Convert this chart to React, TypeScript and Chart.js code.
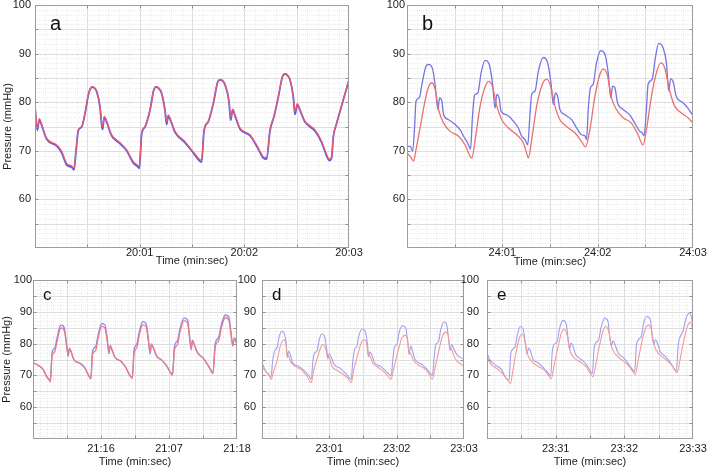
import React, { useEffect, useRef } from 'react';
import { Chart, registerables } from 'chart.js';

Chart.register(...registerables);

const FONT = "'Liberation Sans', Arial, Helvetica, sans-serif";
const TEXT = '#1c1c1c';

type P = [number, number][];

// ---------- tick labels ----------
const yLabelValues = [60, 70, 80, 90, 100];
const aTimeLabels = ['', '20:01', '20:02', '20:03'];
const bTimeLabels = ['', '24:01', '24:02', '24:03'];
const cTimeLabels = ['', '21:16', '21:07', '21:18'];
const dTimeLabels = ['', '23:01', '23:02', '23:03'];
const eTimeLabels = ['', '23:31', '23:32', '23:33'];
const xAxisTitle = 'Time (min:sec)';
const yAxisTitle = 'Pressure (mmHg)';

// ---------- panel a (seconds, mmHg) ----------
const aRed: P = [[0,79.2],[0.022,74.7],[0.041,76.6],[0.064,75.4],[0.111,72.6],[0.207,71.2],[0.255,69.9],[0.303,67.4],[0.350,66.9],[0.373,66.4],[0.392,70.2],[0.414,74.3],[0.446,75.0],[0.478,77.8],[0.510,81.6],[0.530,82.9],[0.548,83.2],[0.568,83.0],[0.589,82.3],[0.621,79.2],[0.637,75.7],[0.646,75.0],[0.662,77.1],[0.685,76.1],[0.732,73.3],[0.812,71.7],[0.876,70.2],[0.939,67.8],[0.978,67.1],[0.997,66.8],[1.019,73.7],[1.051,75.0],[1.099,78.5],[1.135,82.6],[1.156,83.2],[1.180,83.0],[1.210,81.9],[1.242,78.5],[1.258,75.9],[1.274,77.4],[1.296,76.4],[1.338,74.0],[1.433,71.9],[1.497,70.2],[1.561,68.5],[1.592,68.0],[1.615,74.3],[1.656,76.1],[1.704,79.9],[1.745,84.2],[1.768,84.7],[1.792,84.5],[1.815,83.7],[1.854,80.2],[1.869,76.8],[1.889,78.6],[1.911,77.4],[1.959,74.7],[2.054,73.3],[2.118,71.2],[2.182,68.8],[2.213,68.6],[2.245,74.3],[2.283,77.1],[2.325,81.2],[2.365,85.4],[2.389,85.9],[2.413,85.6],[2.436,84.7],[2.468,81.2],[2.484,78.1],[2.506,79.7],[2.532,78.5],[2.580,76.1],[2.675,74.3],[2.739,71.9],[2.787,69.2],[2.812,68.3],[2.834,68.8],[2.850,73.0],[2.882,75.7],[2.946,80.6],[3.0,84.7]];
const aBlue: P = [[0,79.0],[0.022,74.2],[0.041,76.4],[0.064,75.2],[0.111,72.4],[0.207,71.0],[0.255,69.6],[0.303,67.1],[0.350,66.6],[0.373,66.1],[0.392,70.0],[0.414,74.2],[0.446,74.9],[0.478,77.7],[0.510,81.5],[0.530,82.8],[0.548,83.1],[0.568,82.9],[0.589,82.2],[0.621,79.0],[0.637,75.3],[0.646,74.4],[0.662,76.9],[0.685,75.9],[0.732,73.1],[0.812,71.5],[0.876,70.0],[0.939,67.5],[0.978,66.8],[0.997,66.4],[1.019,73.5],[1.051,74.9],[1.099,78.4],[1.135,82.5],[1.156,83.1],[1.180,82.9],[1.210,81.8],[1.242,78.3],[1.258,75.4],[1.274,77.2],[1.296,76.2],[1.338,73.8],[1.433,71.7],[1.497,70.0],[1.561,68.2],[1.592,67.7],[1.615,74.1],[1.656,76.0],[1.704,79.8],[1.745,84.1],[1.768,84.6],[1.792,84.4],[1.815,83.6],[1.854,80.0],[1.869,76.3],[1.889,78.4],[1.911,77.2],[1.959,74.5],[2.054,73.1],[2.118,71.0],[2.182,68.5],[2.213,68.3],[2.245,74.1],[2.283,77.0],[2.325,81.1],[2.365,85.3],[2.389,85.8],[2.413,85.5],[2.436,84.6],[2.468,81.0],[2.484,77.5],[2.506,79.5],[2.532,78.3],[2.580,75.9],[2.675,74.1],[2.739,71.7],[2.787,68.9],[2.812,68.0],[2.834,68.5],[2.850,72.8],[2.882,75.6],[2.946,80.5],[3.0,84.6]];

// ---------- panel b ----------
const bBlue: P = [[0,70.9],[0.035,70.9],[0.059,69.9],[0.080,75.0],[0.094,80.2],[0.129,80.9],[0.157,83.7],[0.199,87.4],[0.227,87.8],[0.269,86.8],[0.296,83.3],[0.324,78.5],[0.342,80.9],[0.366,80.2],[0.384,77.4],[0.436,76.4],[0.506,75.4],[0.558,74.3],[0.593,73.0],[0.628,71.9],[0.652,70.9],[0.666,70.3],[0.687,77.1],[0.708,81.4],[0.743,81.9],[0.778,86.1],[0.820,88.6],[0.862,87.8],[0.896,84.0],[0.924,78.8],[0.942,81.6],[0.966,80.9],[0.987,78.1],[1.046,77.4],[1.116,76.1],[1.168,74.7],[1.203,73.0],[1.238,72.3],[1.266,71.2],[1.291,77.8],[1.308,81.7],[1.343,82.3],[1.378,86.4],[1.430,89.2],[1.475,88.1],[1.510,84.0],[1.535,79.5],[1.556,81.9],[1.580,81.2],[1.604,78.5],[1.657,77.4],[1.727,76.4],[1.779,74.7],[1.831,73.3],[1.866,73.1],[1.883,72.3],[1.901,78.5],[1.925,83.0],[1.953,83.7],[1.988,88.1],[2.033,90.6],[2.075,89.9],[2.110,86.1],[2.138,80.9],[2.156,83.3],[2.180,83.0],[2.208,79.9],[2.267,78.5],[2.337,77.4],[2.389,75.7],[2.442,74.0],[2.466,73.7],[2.487,73.1],[2.511,78.5],[2.529,83.7],[2.571,84.7],[2.606,89.2],[2.640,92.1],[2.686,91.2],[2.721,88.1],[2.745,82.3],[2.766,84.8],[2.790,84.3],[2.825,81.2],[2.895,79.9],[2.947,78.8],[3.0,77.2]];
const bRed: P = [[0,69.5],[0.035,68.8],[0.070,67.9],[0.094,70.2],[0.140,75.0],[0.192,80.6],[0.227,83.2],[0.262,84.0],[0.296,82.6],[0.331,78.5],[0.384,75.7],[0.453,74.0],[0.541,73.0],[0.610,71.2],[0.663,68.8],[0.680,68.5],[0.715,72.3],[0.767,79.2],[0.820,83.2],[0.855,84.3],[0.896,83.3],[0.942,79.2],[0.994,76.4],[1.064,74.7],[1.151,73.3],[1.221,71.6],[1.266,68.8],[1.273,68.5],[1.308,72.3],[1.360,79.2],[1.420,83.7],[1.465,84.7],[1.500,83.7],[1.552,79.2],[1.604,76.4],[1.674,75.0],[1.761,73.7],[1.831,71.9],[1.873,70.8],[1.918,74.3],[1.971,81.2],[2.023,85.7],[2.058,86.8],[2.100,85.7],[2.145,80.9],[2.197,78.5],[2.267,76.8],[2.354,75.7],[2.424,73.3],[2.476,71.2],[2.511,74.3],[2.564,81.2],[2.616,86.1],[2.661,88.1],[2.703,87.1],[2.756,82.3],[2.808,79.2],[2.878,77.8],[2.947,76.8],[3.0,75.7]];

// ---------- panel c ----------
const cRed: P = [[0,74.0],[0.074,73.2],[0.148,71.9],[0.197,69.8],[0.236,68.8],[0.256,68.2],[0.280,76.0],[0.320,77.4],[0.354,80.7],[0.394,84.4],[0.423,84.9],[0.462,83.9],[0.492,79.7],[0.516,76.6],[0.536,78.4],[0.561,77.4],[0.600,75.0],[0.689,73.8],[0.762,72.4],[0.812,70.3],[0.851,69.1],[0.876,76.6],[0.920,77.8],[0.959,81.8],[1.008,85.4],[1.058,84.9],[1.092,80.7],[1.117,77.4],[1.136,79.2],[1.161,78.1],[1.205,75.7],[1.289,74.5],[1.367,72.4],[1.417,70.3],[1.461,69.3],[1.486,77.1],[1.525,78.6],[1.564,82.8],[1.613,85.9],[1.663,85.4],[1.697,80.7],[1.722,77.4],[1.741,79.7],[1.771,78.6],[1.820,76.0],[1.894,74.8],[1.968,72.9],[2.017,71.1],[2.051,70.3],[2.081,78.1],[2.125,79.7],[2.164,83.9],[2.223,87.2],[2.273,86.5],[2.302,81.8],[2.327,78.6],[2.346,80.9],[2.371,79.7],[2.420,77.1],[2.499,75.5],[2.568,73.4],[2.617,71.6],[2.646,70.8],[2.681,79.2],[2.730,80.9],[2.769,84.9],[2.828,88.2],[2.878,87.5],[2.912,82.8],[2.937,79.7],[2.961,81.6],[3.0,79.7]];
const cBlue: P = [[0,74.0],[0.074,73.2],[0.148,71.9],[0.197,69.7],[0.236,68.6],[0.256,68.0],[0.280,77.2],[0.320,78.6],[0.354,81.8],[0.394,85.3],[0.423,85.8],[0.462,84.8],[0.492,80.2],[0.516,76.0],[0.536,78.6],[0.561,77.4],[0.600,75.0],[0.689,73.8],[0.762,72.4],[0.812,70.2],[0.851,68.9],[0.876,77.6],[0.920,79.0],[0.959,82.8],[1.008,86.3],[1.058,85.9],[1.092,81.5],[1.117,76.8],[1.136,79.4],[1.161,78.1],[1.205,75.7],[1.289,74.5],[1.367,72.4],[1.417,70.2],[1.461,69.1],[1.486,78.1],[1.525,79.8],[1.564,83.8],[1.613,86.9],[1.663,86.3],[1.697,81.4],[1.722,76.7],[1.741,79.9],[1.771,78.6],[1.820,76.0],[1.894,74.8],[1.968,72.9],[2.017,71.0],[2.051,70.1],[2.081,79.2],[2.125,80.9],[2.164,84.9],[2.223,88.1],[2.273,87.4],[2.302,82.6],[2.327,78.0],[2.346,81.1],[2.371,79.7],[2.420,77.1],[2.499,75.5],[2.568,73.4],[2.617,71.5],[2.646,70.6],[2.681,80.2],[2.730,82.0],[2.769,85.9],[2.828,89.0],[2.878,88.4],[2.912,83.6],[2.937,79.2],[2.961,81.8],[3.0,79.7]];

// ---------- panel d ----------
const dBlue: P = [[0,74.0],[0.049,71.6],[0.099,70.3],[0.133,69.5],[0.158,74.5],[0.188,77.8],[0.222,78.6],[0.257,82.3],[0.297,83.9],[0.336,82.8],[0.361,79.7],[0.376,76.0],[0.395,77.6],[0.420,76.6],[0.455,74.0],[0.544,72.9],[0.618,71.6],[0.692,70.0],[0.732,68.8],[0.756,74.5],[0.781,77.1],[0.816,77.6],[0.850,81.2],[0.890,83.0],[0.929,82.3],[0.959,78.6],[0.979,75.5],[0.999,76.8],[1.028,75.7],[1.073,73.4],[1.162,72.2],[1.236,70.8],[1.295,69.3],[1.325,68.8],[1.349,74.5],[1.374,78.1],[1.409,79.2],[1.443,82.8],[1.493,84.6],[1.532,83.9],[1.567,79.7],[1.582,76.0],[1.602,77.4],[1.631,76.4],[1.671,74.0],[1.755,72.9],[1.829,71.6],[1.888,70.3],[1.918,69.8],[1.943,75.0],[1.967,78.9],[2.002,79.7],[2.042,83.9],[2.091,85.6],[2.135,84.9],[2.165,80.2],[2.185,76.8],[2.209,79.2],[2.234,77.8],[2.274,75.0],[2.363,73.6],[2.432,72.4],[2.496,70.8],[2.531,70.0],[2.556,75.5],[2.580,79.7],[2.620,80.5],[2.654,84.4],[2.704,86.8],[2.743,85.9],[2.773,81.2],[2.793,78.1],[2.818,79.7],[2.847,78.4],[2.892,76.6],[3.0,75.0]];
const dRed: P = [[0,72.6],[0.074,70.8],[0.124,69.3],[0.138,68.8],[0.173,71.4],[0.222,74.5],[0.272,79.2],[0.321,81.2],[0.356,79.7],[0.376,75.6],[0.392,76.4],[0.420,74.5],[0.494,72.9],[0.593,71.6],[0.667,69.8],[0.732,67.7],[0.766,71.4],[0.830,76.0],[0.880,79.2],[0.914,79.7],[0.949,78.1],[0.979,75.2],[0.995,75.8],[1.038,72.9],[1.112,71.6],[1.211,70.3],[1.285,68.8],[1.325,67.7],[1.359,71.4],[1.424,76.6],[1.473,80.2],[1.522,81.2],[1.557,79.7],[1.582,75.8],[1.600,76.2],[1.641,74.0],[1.730,72.4],[1.829,70.8],[1.888,69.3],[1.918,68.8],[1.953,71.9],[2.027,78.1],[2.076,81.8],[2.126,82.6],[2.165,80.9],[2.185,76.6],[2.205,76.9],[2.249,74.7],[2.348,72.9],[2.447,71.6],[2.496,69.8],[2.531,68.8],[2.570,72.4],[2.630,78.1],[2.679,82.3],[2.729,83.6],[2.768,82.3],[2.793,77.8],[2.810,78.3],[2.867,75.3],[3.0,72.9]];

// ---------- panel e ----------
const eBlue: P = [[0,77.1],[0.039,75.0],[0.112,73.4],[0.209,71.9],[0.272,69.3],[0.320,68.4],[0.345,76.6],[0.369,78.1],[0.413,79.2],[0.442,82.8],[0.485,85.4],[0.524,84.7],[0.558,80.2],[0.583,76.8],[0.607,78.6],[0.636,77.6],[0.670,75.0],[0.743,74.0],[0.825,72.4],[0.888,70.8],[0.927,69.8],[0.951,77.6],[0.976,79.7],[1.019,80.5],[1.058,84.9],[1.107,87.3],[1.155,86.1],[1.180,81.8],[1.204,78.1],[1.223,80.2],[1.252,79.2],[1.291,76.6],[1.374,75.0],[1.447,73.4],[1.505,71.4],[1.534,70.5],[1.558,78.1],[1.583,80.2],[1.626,81.2],[1.665,85.4],[1.714,88.0],[1.762,87.0],[1.786,82.3],[1.811,79.2],[1.835,80.9],[1.864,79.7],[1.908,77.1],[1.990,75.5],[2.068,73.4],[2.117,71.9],[2.150,71.1],[2.175,79.2],[2.204,81.2],[2.248,82.3],[2.282,86.5],[2.330,88.5],[2.379,87.5],[2.403,82.8],[2.427,79.7],[2.451,81.2],[2.481,80.2],[2.524,77.4],[2.612,75.7],[2.684,73.6],[2.723,72.2],[2.757,71.4],[2.786,79.7],[2.816,82.3],[2.854,83.9],[2.893,87.5],[2.942,89.6],[2.976,88.5],[3.0,85.4]];
const eRed: P = [[0,75.7],[0.063,73.4],[0.160,71.9],[0.257,69.8],[0.320,68.0],[0.340,67.4],[0.379,71.9],[0.427,77.6],[0.476,82.0],[0.510,83.0],[0.549,81.2],[0.583,77.1],[0.646,74.5],[0.743,72.9],[0.840,71.6],[0.903,69.8],[0.937,69.0],[0.971,72.4],[1.034,78.9],[1.083,83.3],[1.121,84.6],[1.165,82.8],[1.204,78.1],[1.262,75.7],[1.350,74.3],[1.447,72.6],[1.505,70.5],[1.544,69.5],[1.583,73.4],[1.641,79.7],[1.689,83.9],[1.728,85.4],[1.772,83.9],[1.811,79.2],[1.874,76.6],[1.971,74.7],[2.068,72.9],[2.126,71.1],[2.160,70.3],[2.199,74.5],[2.262,81.2],[2.311,84.9],[2.350,85.9],[2.393,84.4],[2.432,79.7],[2.490,77.1],[2.587,75.3],[2.684,73.4],[2.738,71.6],[2.767,70.8],[2.816,75.5],[2.879,82.3],[2.927,85.9],[2.961,86.8],[3.0,83.9]];

// ---------- layout specs ----------
interface Spec {
  key: string; left: number; top: number; w: number; h: number;
  yW: number; xH: number; pad: { top: number; right: number; bottom: number; left: number };
  yTickPad: number; xTickPad: number; xTitlePad: number; yTitlePad: number; showYTitle: boolean;
  letter: string; letterSize: number; letterDx: number; letterDy: number;
  timeLabels: string[]; red: P; blue: P;
  redColor: string; blueColor: string; redWidth: number; blueWidth: number;
}

const specs: Spec[] = [
  { key: 'a', left: 0, top: 0, w: 380, h: 272, yW: 35, xH: 20, pad: { top: 5, right: 31, bottom: 4, left: 0 },
    yTickPad: 4, xTickPad: -2, xTitlePad: 0, yTitlePad: 1, showYTitle: true,
    letter: 'a', letterSize: 20, letterDx: 15, letterDy: 25, timeLabels: aTimeLabels, red: aRed, blue: aBlue,
    redColor: '#ec5a6c', blueColor: '#5a5ae2', redWidth: 1.2, blueWidth: 1.8 },
  { key: 'b', left: 355, top: 0, w: 356, h: 272, yW: 52, xH: 21, pad: { top: 5, right: 18, bottom: 3, left: 0 },
    yTickPad: 2, xTickPad: -2, xTitlePad: 0, yTitlePad: 0, showYTitle: false,
    letter: 'b', letterSize: 20, letterDx: 15, letterDy: 25, timeLabels: bTimeLabels, red: bRed, blue: bBlue,
    redColor: '#ea7070', blueColor: '#7474e2', redWidth: 1.3, blueWidth: 1.3 },
  { key: 'c', left: 0, top: 270, w: 262, h: 201, yW: 33, xH: 30, pad: { top: 10, right: 25, bottom: 2, left: 0 },
    yTickPad: 1, xTickPad: 3, xTitlePad: 0, yTitlePad: 0, showYTitle: true,
    letter: 'c', letterSize: 17, letterDx: 10, letterDy: 20, timeLabels: cTimeLabels, red: cRed, blue: cBlue,
    redColor: '#ec7a86', blueColor: '#8a8aec', redWidth: 1.3, blueWidth: 1.3 },
  { key: 'd', left: 228, top: 270, w: 262, h: 201, yW: 34, xH: 30, pad: { top: 10, right: 26, bottom: 2, left: 0 },
    yTickPad: 6, xTickPad: 3, xTitlePad: 0, yTitlePad: 0, showYTitle: false,
    letter: 'd', letterSize: 17, letterDx: 10, letterDy: 20, timeLabels: dTimeLabels, red: dRed, blue: dBlue,
    redColor: '#f09c9c', blueColor: '#a0a0f0', redWidth: 1.1, blueWidth: 1.1 },
  { key: 'e', left: 455, top: 270, w: 256, h: 201, yW: 32, xH: 30, pad: { top: 10, right: 18, bottom: 2, left: 0 },
    yTickPad: 8, xTickPad: 3, xTitlePad: 0, yTitlePad: 0, showYTitle: false,
    letter: 'e', letterSize: 17, letterDx: 10, letterDy: 20, timeLabels: eTimeLabels, red: eRed, blue: eBlue,
    redColor: '#f09c9c', blueColor: '#a0a0f0', redWidth: 1.1, blueWidth: 1.1 },
];

const X_MAJOR = 0.5, X_MINOR = 0.1, Y_MAJOR = 5, Y_MINOR = 1;

const gridPlugin = {
  id: 'matlabGrid',
  beforeDatasetsDraw(chart: any) {
    const { ctx, chartArea: ca, scales } = chart;
    const xs = scales.x, ys = scales.y;
    ctx.save();
    ctx.fillStyle = '#ffffff';
    ctx.fillRect(ca.left, ca.top, ca.right - ca.left, ca.bottom - ca.top);
    ctx.beginPath();
    ctx.rect(ca.left, ca.top, ca.right - ca.left, ca.bottom - ca.top);
    ctx.clip();
    ctx.lineWidth = 1;
    ctx.strokeStyle = '#ececec';
    ctx.setLineDash([1, 1]);
    ctx.beginPath();
    const nx = Math.round((xs.max - xs.min) / X_MINOR);
    for (let i = 0; i <= nx; i++) {
      const px = Math.round(xs.getPixelForValue(xs.min + i * X_MINOR)) + 0.5;
      ctx.moveTo(px, ca.top); ctx.lineTo(px, ca.bottom);
    }
    const ny = Math.round((ys.max - ys.min) / Y_MINOR);
    for (let i = 0; i <= ny; i++) {
      const py = Math.round(ys.getPixelForValue(ys.min + i * Y_MINOR)) + 0.5;
      ctx.moveTo(ca.left, py); ctx.lineTo(ca.right, py);
    }
    ctx.stroke();
    ctx.strokeStyle = '#dedede';
    ctx.setLineDash([]);
    ctx.beginPath();
    const mx = Math.round((xs.max - xs.min) / X_MAJOR);
    for (let i = 0; i <= mx; i++) {
      const px = Math.round(xs.getPixelForValue(xs.min + i * X_MAJOR)) + 0.5;
      ctx.moveTo(px, ca.top); ctx.lineTo(px, ca.bottom);
    }
    const my = Math.round((ys.max - ys.min) / Y_MAJOR);
    for (let i = 0; i <= my; i++) {
      const py = Math.round(ys.getPixelForValue(ys.min + i * Y_MAJOR)) + 0.5;
      ctx.moveTo(ca.left, py); ctx.lineTo(ca.right, py);
    }
    ctx.stroke();
    ctx.restore();
  },
  afterDatasetsDraw(chart: any) {
    const { ctx, chartArea: ca, scales } = chart;
    const xs = scales.x, ys = scales.y;
    const L = Math.round(ca.left) + 0.5, R = Math.round(ca.right) - 0.5;
    const T = Math.round(ca.top) + 0.5, B = Math.round(ca.bottom) - 0.5;
    ctx.save();
    ctx.lineWidth = 1;
    ctx.strokeStyle = '#8e8e8e';
    ctx.beginPath();
    const mx = Math.round((xs.max - xs.min) / X_MAJOR);
    for (let i = 1; i < mx; i++) {
      const px = Math.round(xs.getPixelForValue(xs.min + i * X_MAJOR)) + 0.5;
      ctx.moveTo(px, B); ctx.lineTo(px, B - 3);
      ctx.moveTo(px, T); ctx.lineTo(px, T + 3);
    }
    const my = Math.round((ys.max - ys.min) / Y_MAJOR);
    for (let i = 1; i < my; i++) {
      const py = Math.round(ys.getPixelForValue(ys.min + i * Y_MAJOR)) + 0.5;
      ctx.moveTo(L, py); ctx.lineTo(L + 3, py);
      ctx.moveTo(R, py); ctx.lineTo(R - 3, py);
    }
    ctx.stroke();
    ctx.strokeStyle = '#9c9c9c';
    ctx.strokeRect(L, T, R - L, B - T);
    ctx.restore();
  },
};

const letterPlugin = {
  id: 'panelLetter',
  afterDraw(chart: any, _args: any, opts: any) {
    const { ctx, chartArea: ca } = chart;
    ctx.save();
    ctx.fillStyle = '#111111';
    ctx.font = `${opts.size}px ${FONT}`;
    ctx.textAlign = 'left';
    ctx.textBaseline = 'alphabetic';
    ctx.fillText(opts.text, ca.left + opts.dx, ca.top + opts.dy);
    ctx.restore();
  },
};

function Panel({ spec }: { spec: Spec }) {
  const ref = useRef<HTMLCanvasElement | null>(null);
  useEffect(() => {
    if (!ref.current) return;
    const toXY = (p: P) => p.map(([x, y]) => ({ x, y }));
    const chart = new Chart(ref.current, {
      type: 'line',
      data: {
        datasets: [
          { label: 'red', data: toXY(spec.red), borderColor: spec.redColor, borderWidth: spec.redWidth,
            pointRadius: 0, cubicInterpolationMode: 'monotone', fill: false },
          { label: 'blue', data: toXY(spec.blue), borderColor: spec.blueColor, borderWidth: spec.blueWidth,
            pointRadius: 0, cubicInterpolationMode: 'monotone', fill: false },
        ],
      } as any,
      options: {
        responsive: false,
        animation: false,
        events: [],
        devicePixelRatio: 1,
        layout: { padding: spec.pad },
        plugins: {
          legend: { display: false },
          tooltip: { enabled: false },
          panelLetter: { text: spec.letter, size: spec.letterSize, dx: spec.letterDx, dy: spec.letterDy },
        } as any,
        scales: {
          x: {
            type: 'linear', min: 0, max: 3,
            grid: { display: false, drawTicks: false },
            border: { display: false },
            ticks: {
              stepSize: 0.5, autoSkip: false, maxRotation: 0, padding: spec.xTickPad,
              color: TEXT, font: { family: FONT, size: 11 },
              callback: (v: any) => (Number.isInteger(v) && v > 0 ? spec.timeLabels[v] : ''),
            },
            title: { display: true, text: xAxisTitle, color: TEXT, font: { family: FONT, size: 11 },
              padding: { top: 0, bottom: spec.xTitlePad } },
            afterFit: (s: any) => { s.height = spec.xH; s.paddingLeft = 0; s.paddingRight = 0; },
          },
          y: {
            type: 'linear', min: 50, max: 100,
            grid: { display: false, drawTicks: false },
            border: { display: false },
            ticks: {
              stepSize: 5, autoSkip: false, padding: spec.yTickPad,
              color: TEXT, font: { family: FONT, size: 11 },
              callback: (v: any) => (yLabelValues.includes(v) ? String(v) : ''),
            },
            title: { display: spec.showYTitle, text: yAxisTitle, color: TEXT, font: { family: FONT, size: 11 },
              padding: { top: spec.yTitlePad, bottom: 0 } },
            afterFit: (s: any) => { s.width = spec.yW; s.paddingTop = 0; s.paddingBottom = 0; },
          },
        } as any,
      },
      plugins: [gridPlugin, letterPlugin] as any,
    });
    return () => chart.destroy();
  }, [spec]);
  return (
    <canvas
      ref={ref}
      width={spec.w}
      height={spec.h}
      style={{ position: 'absolute', left: spec.left, top: spec.top, width: spec.w, height: spec.h, display: 'block' }}
    />
  );
}

export default function App() {
  return (
    <div style={{ position: 'fixed', left: 0, top: 0, width: 711, height: 471, background: '#ffffff', overflow: 'hidden' }}>
      {specs.map((s) => (
        <Panel key={s.key} spec={s} />
      ))}
    </div>
  );
}
